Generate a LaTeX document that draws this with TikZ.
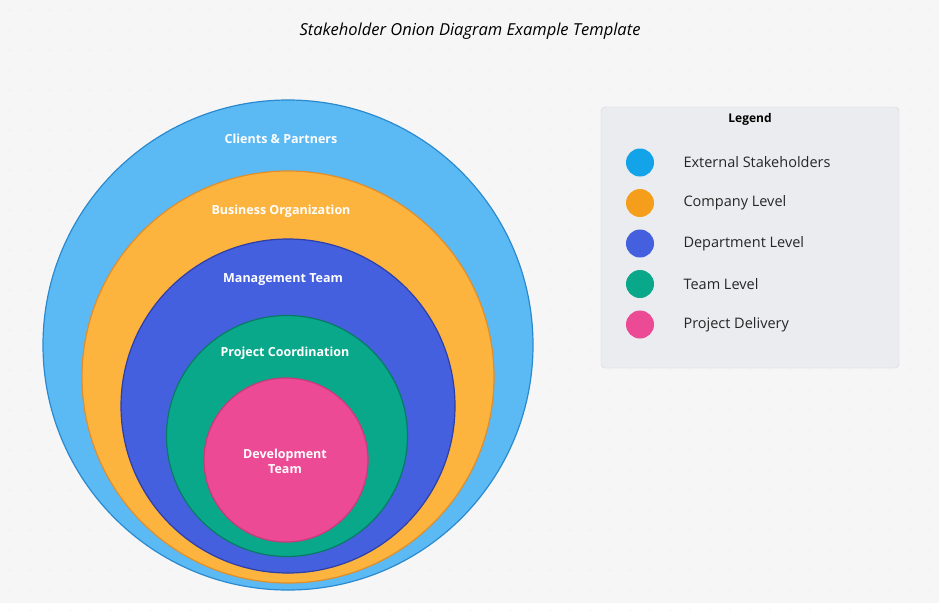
\documentclass[tikz,border=0pt]{standalone}
\usepackage{fontspec}
\setmainfont{Open Sans}
\definecolor{bgc}{HTML}{F6F6F6}
\definecolor{ringA}{HTML}{5BB9F4}
\definecolor{ringAd}{HTML}{2B8ACF}
\definecolor{ringB}{HTML}{FDB43F}
\definecolor{ringBd}{HTML}{DE8F2B}
\definecolor{ringC}{HTML}{4460DE}
\definecolor{ringCd}{HTML}{2E3FA6}
\definecolor{ringD}{HTML}{0AA88A}
\definecolor{ringDd}{HTML}{087A65}
\definecolor{ringE}{HTML}{EC4A94}
\definecolor{ringEd}{HTML}{C83A7A}
\definecolor{dotA}{HTML}{13A3E8}
\definecolor{dotB}{HTML}{F59E1C}
\definecolor{legbg}{HTML}{EBECEF}
\definecolor{legbd}{HTML}{D4D6DA}
\begin{document}
\begin{tikzpicture}[x=1pt, y=-1pt,
 ring/.style = {circle, draw, line width=1.2pt, inner sep=0pt},
 lbl/.style = {text=white, font=\fontsize{12.5}{15}\selectfont\bfseries, align=center},
 key/.style = {circle, minimum size=28pt, inner sep=0pt},
 keytxt/.style = {anchor=west, font=\fontsize{14.5}{17}\selectfont, text=black!85}]
 \fill [bgc] (0,0) rectangle (939,603);
 \foreach \i in {0,...,46}
  \foreach \j in {0,...,30}
   \fill [black!15] (10+\i*20, 10+\j*20) circle (0.5pt);
 \node [font=\fontsize{16.5}{19}\selectfont\itshape] (title) at (470,31) {Stakeholder Onion Diagram Example Template};

 % onion rings
 \node (clients)[ring, fill=ringA, draw=ringAd, minimum size=490pt] at (288,345) {};
 \node (business)[ring, fill=ringB, draw=ringBd, minimum size=412pt] at (288,377) {};
 \node (management)[ring, fill=ringC, draw=ringCd, minimum size=334pt] at (288,406) {};
 \node (coordination)[ring, fill=ringD, draw=ringDd, minimum size=241pt] at (287,436) {};
 \node (development)[ring, fill=ringE, draw=ringEd, minimum size=164pt] at (286,460) {};
 \node (clientsL)[lbl] at (281,139) {Clients \& Partners};
 \node (businessL)[lbl] at (281,211) {Business Organization};
 \node (managementL)[lbl] at (283,280) {Management Team};
 \node (coordinationL)[lbl] at (285,353) {Project Coordination};
 \node (developmentL)[lbl] at (285,461) {Development\\Team};

 % legend
 \node (legend)[draw=legbd, fill=legbg, rounded corners=4pt, minimum width=298pt, minimum height=261pt] at (750,237.5) {};
 \node (legendT)[font=\fontsize{12}{14}\selectfont\bfseries] at (750,119) {Legend};
 \foreach \c/\t [count=\k] in {dotA/External Stakeholders, dotB/Company Level, ringC/Department Level, ringD/Team Level, ringE/Project Delivery} {
  \node (key\k)[key, fill=\c] at (640,122+\k*40.5) {};
  \node (keyT\k)[keytxt] at (680,122+\k*40.5) {\t};
 }
\end{tikzpicture}
\end{document}
